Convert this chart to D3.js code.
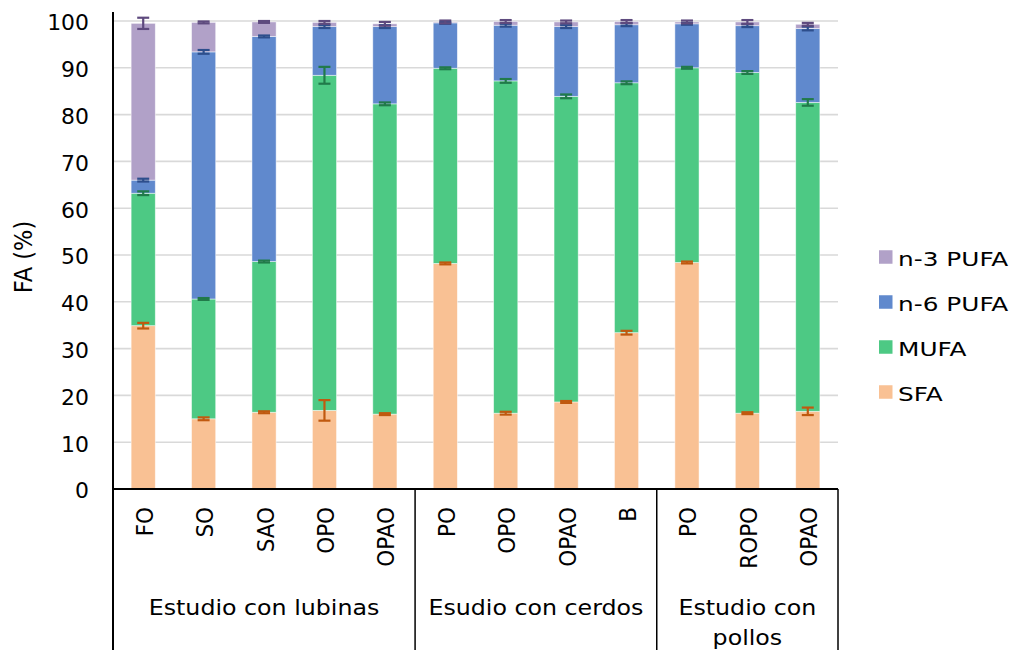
<!DOCTYPE html>
<html>
<head>
<meta charset="utf-8">
<script src="https://cdn.jsdelivr.net/npm/d3@7"></script>
<style>
  html, body { margin: 0; padding: 0; background: #fff; }
  svg { display: block; font-family: "DejaVu Sans", Verdana, sans-serif; }
</style>
</head>
<body>
<svg id="chart" width="1012" height="650"></svg>
<script>
// Diet treatments (x categories) and the study each belongs to
const categories = ["FO", "SO", "SAO", "OPO", "OPAO", "PO", "OPO", "OPAO", "B", "PO", "ROPO", "OPAO"];
const groups = [
  { name: ["Estudio con lubinas"], from: 0, to: 4 },
  { name: ["Esudio con cerdos"], from: 5, to: 8 },
  { name: ["Estudio con", "pollos"], from: 9, to: 11 }
];

// Fatty-acid fractions (% of total FA), stacked bottom to top
const seriesNames = ["SFA", "MUFA", "n-6 PUFA", "n-3 PUFA"];
const sfa   = [34.9, 15.0, 16.4, 16.8, 16.0, 48.2, 16.2, 18.6, 33.4, 48.4, 16.2, 16.6];
const mufa  = [28.3, 25.6, 32.2, 71.6, 66.3, 41.7, 71.0, 65.3, 53.4, 41.6, 72.8, 66.0];
const n6    = [ 2.8, 52.8, 48.1, 10.4, 16.5,  9.7, 11.9, 14.9, 12.4,  9.4, 10.0, 15.8];
const n3    = [33.5,  6.3,  3.1,  0.9,  0.6,  0.2,  0.8,  1.0,  0.7,  0.4,  0.8,  0.9];

// Standard deviations for each fraction
const sfaErr  = [0.6, 0.3, 0.2, 2.2, 0.2, 0.2, 0.3, 0.2, 0.4, 0.2, 0.2, 0.8];
const mufaErr = [0.4, 0.2, 0.2, 1.8, 0.3, 0.2, 0.4, 0.4, 0.3, 0.2, 0.3, 0.7];
const n6Err   = [0.3, 0.4, 0.2, 0.3, 0.3, 0.2, 0.3, 0.3, 0.3, 0.2, 0.3, 0.4];
const n3Err   = [1.2, 0.2, 0.2, 0.3, 0.4, 0.3, 0.3, 0.3, 0.3, 0.3, 0.4, 0.3];

const yTicks = [0, 10, 20, 30, 40, 50, 60, 70, 80, 90, 100];

const fills = ["#F9C194", "#4DC984", "#6089CD", "#B1A1C8"];
const errColors = ["#C0590F", "#217A4A", "#2D4E8C", "#5E4A7E"];

const values = [sfa, mufa, n6, n3];
const errors = [sfaErr, mufaErr, n6Err, n3Err];

const rows = categories.map((c, i) => {
  const r = { idx: i };
  seriesNames.forEach((s, k) => { r[s] = values[k][i]; });
  return r;
});
const stacked = d3.stack().keys(seriesNames)(rows);

const svg = d3.select("#chart");
const plotL = 113, plotR = 838, plotT = 21, plotB = 489;

const x = d3.scaleBand().domain(d3.range(categories.length))
  .range([plotL, plotR]).paddingInner(0.6).paddingOuter(0.3);
const y = d3.scaleLinear().domain([0, 100]).range([plotB, plotT]);

// Horizontal gridlines
svg.append("g").selectAll("line").data(yTicks.filter(t => t > 0)).join("line")
  .attr("x1", plotL).attr("x2", plotR)
  .attr("y1", d => y(d)).attr("y2", d => y(d))
  .attr("stroke", "#D9D9D9").attr("stroke-width", 1.6);

// Y axis tick labels (slightly wide glyphs)
const tickPad = 24, tickStretch = 1.07;
const yAxis = d3.axisLeft(y).tickValues(yTicks).tickSize(0).tickPadding(tickPad);
const gy = svg.append("g").attr("transform", `translate(${plotL},0)`).call(yAxis);
gy.select(".domain").remove();
gy.selectAll("text")
  .attr("font-size", 20.5).attr("fill", "#000")
  .attr("font-family", "DejaVu Sans, Verdana, sans-serif")
  .attr("x", -tickPad / tickStretch).attr("dy", "0.43em")
  .attr("transform", `scale(${tickStretch},1)`);

// Stacked bars
svg.append("g").selectAll("g").data(stacked).join("g")
  .attr("fill", (d, k) => fills[k])
  .selectAll("rect").data(d => d).join("rect")
  .attr("x", (d, i) => x(i))
  .attr("width", x.bandwidth())
  .attr("y", d => y(d[1]))
  .attr("height", d => y(d[0]) - y(d[1]))
  .attr("stroke", "#ffffff").attr("stroke-opacity", 0.6).attr("stroke-width", 0.8);

// Error bars at the top of every segment
const capW = 12;
stacked.forEach((layer, k) => {
  const g = svg.append("g").attr("stroke", errColors[k]).attr("stroke-width", 2.2).attr("fill", "none");
  layer.forEach((d, i) => {
    const cx = x(i) + x.bandwidth() / 2;
    const e = errors[k][i];
    const yHi = y(d[1] + e), yLo = y(d[1] - e);
    g.append("line").attr("x1", cx).attr("x2", cx).attr("y1", yHi).attr("y2", yLo);
    g.append("line").attr("x1", cx - capW / 2).attr("x2", cx + capW / 2).attr("y1", yHi).attr("y2", yHi);
    g.append("line").attr("x1", cx - capW / 2).attr("x2", cx + capW / 2).attr("y1", yLo).attr("y2", yLo);
  });
});

// Axis lines
svg.append("line").attr("x1", plotL).attr("x2", plotL).attr("y1", 12).attr("y2", 650)
  .attr("stroke", "#000").attr("stroke-width", 2);
svg.append("line").attr("x1", plotL).attr("x2", plotR).attr("y1", plotB).attr("y2", plotB)
  .attr("stroke", "#000").attr("stroke-width", 2);

// Group separators below the axis
const sepXs = [(x(4) + x.bandwidth() + x(5)) / 2, (x(8) + x.bandwidth() + x(9)) / 2, plotR];
svg.append("g").selectAll("line").data(sepXs).join("line")
  .attr("x1", d => d).attr("x2", d => d).attr("y1", plotB).attr("y2", 650)
  .attr("stroke", "#000").attr("stroke-width", 1.5);

// Category labels, rotated to read upward
svg.append("g").selectAll("text").data(categories).join("text")
  .attr("transform", (d, i) => `translate(${x(i) + x.bandwidth() / 2 + 9.5},507) scale(1.08,1) rotate(-90)`)
  .attr("text-anchor", "end").attr("font-size", 21.5).attr("fill", "#000")
  .text(d => d);

// Group labels
groups.forEach(gr => {
  const cx = (x(gr.from) + x(gr.to) + x.bandwidth()) / 2;
  const t = svg.append("text")
    .attr("transform", `translate(${cx},0) scale(1.13,1)`)
    .attr("text-anchor", "middle").attr("font-size", 21).attr("fill", "#000");
  gr.name.forEach((line, j) => {
    t.append("tspan").attr("x", 0).attr("y", 615 + j * 30).text(line);
  });
});

// Y axis title
svg.append("text").attr("transform", "translate(32,257) scale(1.1,1) rotate(-90)")
  .attr("text-anchor", "middle").attr("font-size", 22.5).attr("fill", "#000")
  .text("FA (%)");

// Legend (top entry = top of stack)
const legend = svg.append("g");
const legendItems = seriesNames.map((s, k) => ({ s, k })).reverse();
legendItems.forEach((d, j) => {
  const cy = 257 + j * 45;
  legend.append("rect").attr("x", 879).attr("y", cy - 6.75).attr("width", 13.5).attr("height", 13.5)
    .attr("fill", fills[d.k]);
  legend.append("text")
    .attr("transform", `translate(898,${cy + 8.5}) scale(1.24,1)`)
    .attr("font-size", 20).attr("fill", "#000")
    .text(d.s);
});
</script>
</body>
</html>
